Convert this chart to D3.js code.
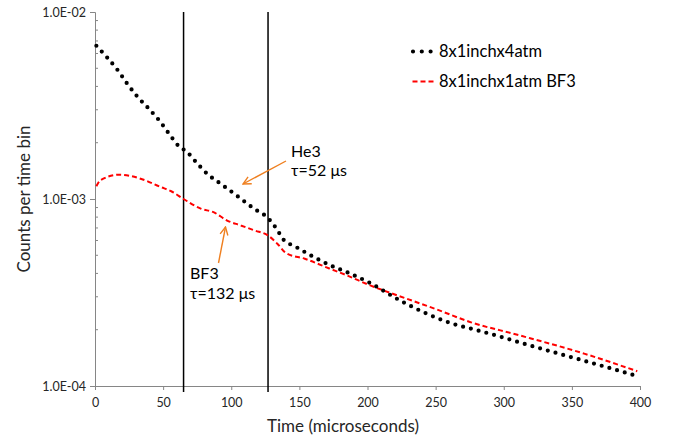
<!DOCTYPE html>
<html>
<head>
<meta charset="utf-8">
<script src="https://cdn.jsdelivr.net/npm/d3@7"></script>
<style>
  body { margin: 0; background: #fff; }
  svg { display: block; font-family: Lato, "Open Sans", sans-serif; }
</style>
</head>
<body>
<svg id="chart" width="673" height="439"></svg>
<script>
// He3 tube (8x1inchx4atm) - time in microseconds, counts per time bin
const he3Time = [1, 9, 17, 24, 31.5, 39.5, 47.5, 55, 62, 67, 75, 83, 92, 102, 117, 127, 134, 138, 147, 173, 185, 202, 223, 245, 261, 279, 297, 314, 332, 355, 379, 396];
const he3Counts = [6.6e-3, 5.7e-3, 4.85e-3, 4.1e-3, 3.5e-3, 3.04e-3, 2.61e-3, 2.2e-3, 1.9e-3, 1.8e-3, 1.55e-3, 1.35e-3, 1.21e-3, 1.07e-3, 8.85e-4, 7.9e-4, 6.8e-4, 6.1e-4, 5.57e-4, 4.41e-4, 4.06e-4, 3.55e-4, 2.89e-4, 2.41e-4, 2.17e-4, 2.0e-4, 1.84e-4, 1.69e-4, 1.55e-4, 1.39e-4, 1.24e-4, 1.14e-4];

// BF3 tube (8x1inchx1atm BF3)
const bf3Time = [1, 4, 18, 34, 48, 56, 65, 78, 87, 97, 107, 117, 127, 134, 140, 154, 172, 185, 202, 222, 250, 276, 310, 359, 398];
const bf3Counts = [1.17e-3, 1.26e-3, 1.35e-3, 1.28e-3, 1.16e-3, 1.1e-3, 1.0e-3, 8.86e-4, 8.5e-4, 7.67e-4, 7.22e-4, 6.79e-4, 6.38e-4, 5.75e-4, 5.15e-4, 4.79e-4, 4.25e-4, 3.9e-4, 3.45e-4, 3.05e-4, 2.58e-4, 2.19e-4, 1.88e-4, 1.49e-4, 1.2e-4];

const xTicks = [0, 50, 100, 150, 200, 250, 300, 350, 400];
const yTicks = [1e-4, 1e-3, 1e-2];
const markerTimes = [65, 127];
const seriesNames = ["8x1inchx4atm", "8x1inchx1atm BF3"];

const svg = d3.select("#chart");
const margin = { left: 95, right: 33, top: 12, bottom: 53 };
const width = 673, height = 439;
const innerW = width - margin.left - margin.right;
const innerH = height - margin.top - margin.bottom;

const x = d3.scaleLinear().domain([0, 400]).range([margin.left, margin.left + innerW]);
const y = d3.scaleLog().domain([1e-4, 1e-2]).range([margin.top + innerH, margin.top]);

const axisColor = "#868686";
const textColor = "#262626";
const orange = "#ef7f1f";

// minor ticks on the log axis (inside)
const minor = [];
[1e-4, 1e-3].forEach(d => { for (let k = 2; k <= 9; k++) minor.push(d * k); });
svg.append("g").selectAll("line").data(minor).join("line")
  .attr("x1", margin.left).attr("x2", margin.left + 3)
  .attr("y1", d => y(d)).attr("y2", d => y(d))
  .attr("stroke", axisColor).attr("stroke-width", 1);

// y axis
const yAxis = svg.append("g")
  .attr("transform", `translate(${margin.left},0)`)
  .call(d3.axisLeft(y).tickValues(yTicks).tickSize(5).tickPadding(4)
    .tickFormat(d => d.toExponential(1).toUpperCase().replace(/E([+-])(\d)$/, "E$10$2")));
yAxis.select(".domain").attr("stroke", axisColor);
yAxis.selectAll(".tick line").attr("stroke", axisColor);
yAxis.selectAll("text").attr("fill", textColor).attr("font-size", 12.5).attr("font-family", "Lato");

// x axis
const xAxis = svg.append("g")
  .attr("transform", `translate(0,${margin.top + innerH})`)
  .call(d3.axisBottom(x).tickValues(xTicks).tickSize(4).tickSizeOuter(0).tickPadding(8));
xAxis.select(".domain").attr("stroke", axisColor);
xAxis.selectAll(".tick line").attr("stroke", axisColor);
xAxis.selectAll("text").attr("fill", textColor).attr("font-size", 12.5).attr("font-family", "Lato");

// axis titles
svg.append("text")
  .attr("x", 343).attr("y", 432)
  .attr("text-anchor", "middle").attr("font-size", 17).attr("fill", textColor)
  .text("Time (microseconds)");
svg.append("text")
  .attr("transform", `translate(30,${margin.top + innerH / 2}) rotate(-90)`)
  .attr("text-anchor", "middle").attr("font-size", 17).attr("fill", textColor)
  .text("Counts per time bin");

// vertical markers
svg.append("g").selectAll("line").data(markerTimes).join("line")
  .attr("x1", d => x(d)).attr("x2", d => x(d))
  .attr("y1", margin.top).attr("y2", margin.top + innerH + 6)
  .attr("stroke", "#000").attr("stroke-width", 1.5);

// series
const line = d3.line().x(d => x(d[0])).y(d => y(d[1])).curve(d3.curveMonotoneX);
const he3 = d3.zip(he3Time, he3Counts);
const bf3 = d3.zip(bf3Time, bf3Counts);

svg.append("path").datum(bf3)
  .attr("d", line).attr("fill", "none")
  .attr("stroke", "#ff0000").attr("stroke-width", 2)
  .attr("stroke-dasharray", "5,3");

svg.append("path").datum(he3)
  .attr("d", line).attr("fill", "none")
  .attr("stroke", "#000").attr("stroke-width", 4.2)
  .attr("stroke-linecap", "round")
  .attr("stroke-dasharray", "0,8");

// legend
const legend = svg.append("g").attr("font-size", 16.5).attr("fill", "#000");
legend.append("line")
  .attr("x1", 413).attr("x2", 432).attr("y1", 51.5).attr("y2", 51.5)
  .attr("stroke", "#000").attr("stroke-width", 4.2)
  .attr("stroke-linecap", "round").attr("stroke-dasharray", "0,8.8");
legend.append("line")
  .attr("x1", 412.5).attr("x2", 434.5).attr("y1", 81.5).attr("y2", 81.5)
  .attr("stroke", "#ff0000").attr("stroke-width", 2)
  .attr("stroke-dasharray", "5,3");
legend.selectAll("text").data(seriesNames).join("text")
  .attr("x", 439).attr("y", (d, i) => 57 + i * 30)
  .text(d => d);

// annotations
svg.append("defs").append("marker")
  .attr("id", "arrow").attr("viewBox", "0 0 10 10")
  .attr("refX", 9).attr("refY", 5)
  .attr("markerWidth", 7).attr("markerHeight", 7)
  .attr("orient", "auto-start-reverse")
  .append("path").attr("d", "M1,1 L9,5 L1,9")
  .attr("fill", "none").attr("stroke", orange).attr("stroke-width", 1.4);

const notes = svg.append("g").attr("font-size", 16).attr("fill", "#000");
notes.append("text").attr("x", 291).attr("y", 157).text("He3");
notes.append("text").attr("x", 291).attr("y", 176).text("τ=52 μs");
notes.append("text").attr("x", 190).attr("y", 279).text("BF3");
notes.append("text").attr("x", 190).attr("y", 299).text("τ=132 μs");

svg.append("line")
  .attr("x1", 286).attr("y1", 161).attr("x2", 243).attr("y2", 184)
  .attr("stroke", orange).attr("stroke-width", 1.4).attr("marker-end", "url(#arrow)");
svg.append("line")
  .attr("x1", 218.5).attr("y1", 263).attr("x2", 225.5).attr("y2", 227)
  .attr("stroke", orange).attr("stroke-width", 1.4).attr("marker-end", "url(#arrow)");
</script>
</body>
</html>
